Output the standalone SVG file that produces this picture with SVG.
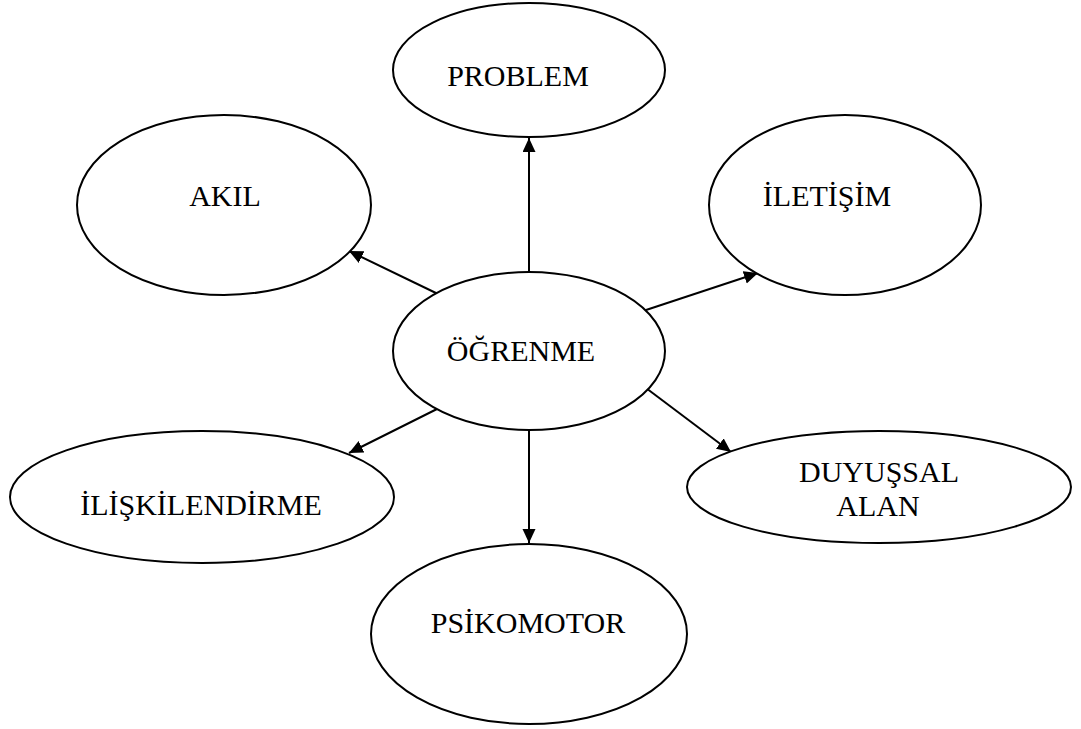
<svg xmlns="http://www.w3.org/2000/svg" width="1081" height="729" viewBox="0 0 1081 729">
  <style>
    .node ellipse { fill: #ffffff; stroke: #000000; stroke-width: 2; }
    .node text { font-family: "Liberation Serif", "Times New Roman", serif; font-size: 30px; fill: #000000; text-anchor: middle; }
    .edge { stroke: #000000; stroke-width: 2; fill: none; marker-end: url(#arrow); }
  </style>
  <defs>
    <marker id="arrow" markerUnits="userSpaceOnUse" markerWidth="15" markerHeight="14" refX="14" refY="6.5" orient="auto">
      <path d="M0,0 L14,6.5 L0,13 z" fill="#000000"/>
    </marker>
  </defs>
  <rect width="1081" height="729" fill="#ffffff"/>

  <!-- connectors from the central concept -->
  <g id="connectors">
    <line class="edge" x1="529" y1="272" x2="529" y2="138"/>
    <line class="edge" x1="438" y1="294" x2="349" y2="251"/>
    <line class="edge" x1="643" y1="311" x2="758" y2="273"/>
    <line class="edge" x1="437" y1="409" x2="349" y2="453"/>
    <line class="edge" x1="642" y1="385" x2="731" y2="452"/>
    <line class="edge" x1="529" y1="430" x2="529" y2="543"/>
  </g>

  <g id="problem" class="node">
    <ellipse cx="529" cy="70" rx="136" ry="67"/>
    <text x="518" y="86">PROBLEM</text>
  </g>

  <g id="akil" class="node">
    <ellipse cx="224" cy="205" rx="147" ry="90"/>
    <text x="225" y="206">AKIL</text>
  </g>

  <g id="iletisim" class="node">
    <ellipse cx="845" cy="205" rx="136" ry="90"/>
    <text x="827" y="206">İLETİŞİM</text>
  </g>

  <g id="ogrenme" class="node">
    <ellipse cx="529" cy="351" rx="136" ry="79"/>
    <text x="521" y="361">ÖĞRENME</text>
  </g>

  <g id="iliskilendirme" class="node">
    <ellipse cx="202" cy="497" rx="192" ry="66"/>
    <text x="201" y="515">İLİŞKİLENDİRME</text>
  </g>

  <g id="duyussal-alan" class="node">
    <ellipse cx="879" cy="487" rx="192" ry="56"/>
    <text x="879" y="482">DUYUŞSAL</text>
    <text x="878" y="516">ALAN</text>
  </g>

  <g id="psikomotor" class="node">
    <ellipse cx="529" cy="634" rx="158" ry="90"/>
    <text x="528" y="633">PSİKOMOTOR</text>
  </g>
</svg>
